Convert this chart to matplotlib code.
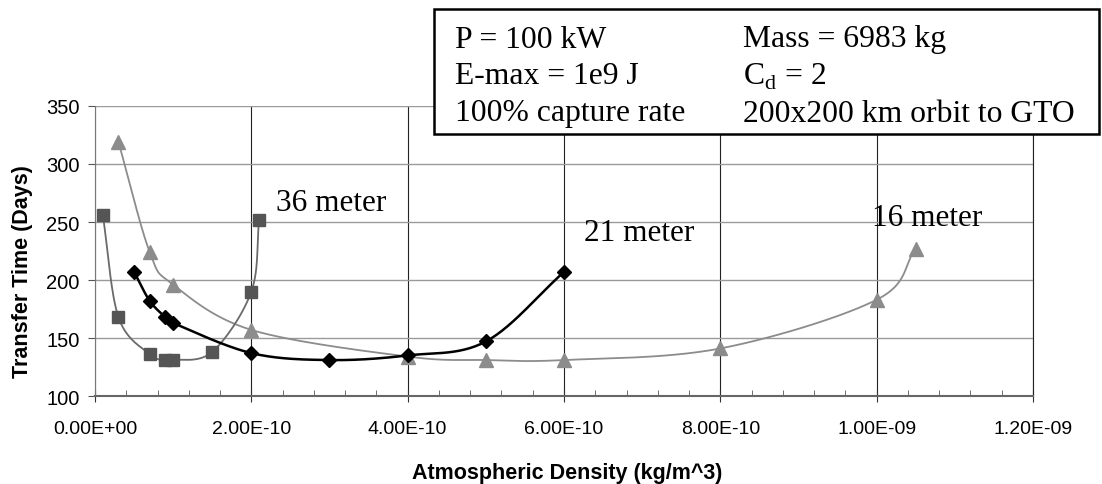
import matplotlib.pyplot as plt
import matplotlib.patches as mpatches
from matplotlib.ticker import FixedLocator, FuncFormatter
import numpy as np

# --- data ---
x_36 = [1e-11, 3e-11, 7e-11, 9e-11, 1e-10, 1.5e-10, 2e-10, 2.1e-10]
y_36 = [256, 168, 136, 131, 131, 138, 190, 252]

x_21 = [5e-11, 7e-11, 9e-11, 1e-10, 2e-10, 3e-10, 4e-10, 5e-10, 6e-10]
y_21 = [207, 182, 168, 163, 137, 131, 135, 147, 207]

x_16 = [3e-11, 7e-11, 1e-10, 2e-10, 4e-10, 5e-10, 6e-10, 8e-10, 1e-9, 1.05e-9]
y_16 = [319, 224, 196, 157, 134, 131, 131, 141, 183, 227]

x_ticks = [0, 2e-10, 4e-10, 6e-10, 8e-10, 1e-9, 1.2e-9]
y_ticks = [100, 150, 200, 250, 300, 350]

box_left = ["P = 100 kW", "E-max = 1e9 J", "100% capture rate"]
box_right = ["Mass = 6983 kg", "C$_\\mathregular{d}$ = 2", "200x200 km orbit to GTO"]


def smooth(xs, ys, n=30):
    # Catmull-Rom style smoothing, like Excel's "smoothed line"
    xs = np.asarray(xs, float)
    ys = np.asarray(ys, float)
    px = np.concatenate([[2 * xs[0] - xs[1]], xs, [2 * xs[-1] - xs[-2]]])
    py = np.concatenate([[2 * ys[0] - ys[1]], ys, [2 * ys[-1] - ys[-2]]])
    ox, oy = [], []
    t = np.linspace(0, 1, n)
    for i in range(1, len(px) - 2):
        for p, out in ((px, ox), (py, oy)):
            p0, p1, p2, p3 = p[i - 1], p[i], p[i + 1], p[i + 2]
            out.extend(0.5 * ((2 * p1) + (-p0 + p2) * t
                              + (2 * p0 - 5 * p1 + 4 * p2 - p3) * t ** 2
                              + (-p0 + 3 * p1 - 3 * p2 + p3) * t ** 3))
    return ox, oy


def sci_label(v, pos):
    if abs(v) < 1e-15:
        return "0.00E+00"
    e = int(np.floor(np.log10(abs(v)) + 1e-9))
    return "{:.2f}E-{:02d}".format(v / 10 ** e, -e)


plt.rcParams['font.family'] = ['Liberation Sans', 'DejaVu Sans']

fig = plt.figure(figsize=(11.02, 4.85), dpi=100)
ax = fig.add_axes([0.0862, 0.1814, 0.8512, 0.598])

series = [
    (x_16, y_16, '^', '#8c8c8c', '#8c8c8c', 1.3, 10),
    (x_36, y_36, 's', '#6a6a6a', '#555555', 1.3, 9),
    (x_21, y_21, 'D', '#000000', '#000000', 1.8, 7.5),
]
for xs, ys, m, lc, mc, lw, ms in series:
    sx, sy = smooth(xs, ys)
    ax.plot(sx, sy, color=lc, lw=lw, zorder=3)
    ax.plot(xs, ys, linestyle='none', marker=m, color=mc, markersize=ms, zorder=4)

ax.set_xlim(0, 1.2e-9)
ax.set_ylim(100, 350)
ax.xaxis.set_major_locator(FixedLocator(x_ticks))
ax.xaxis.set_minor_locator(FixedLocator(np.arange(0, 1.2e-9, 4e-11)))
ax.yaxis.set_major_locator(FixedLocator(y_ticks))
ax.xaxis.set_major_formatter(FuncFormatter(sci_label))

ax.grid(True, axis='x', color='#222222', lw=0.8, zorder=1)
ax.grid(True, axis='y', color='#9a9a9a', lw=1.0, zorder=1)
ax.spines['top'].set_visible(False)
ax.spines['right'].set_color('#222222')
ax.spines['right'].set_linewidth(0.8)
ax.spines['left'].set_color('#777777')
ax.spines['bottom'].set_color('#666666')
ax.spines['bottom'].set_linewidth(1.5)
ax.tick_params(axis='x', which='major', direction='inout', length=8, color='#333333',
               labelsize=14, pad=13)
ax.tick_params(axis='x', which='minor', direction='in', length=4, color='#555555')
ax.tick_params(axis='y', which='major', direction='out', length=5, color='#555555',
               labelsize=14.5, pad=6)

ax.set_ylabel('Transfer Time (Days)', fontsize=15.5, fontweight='bold')
ax.yaxis.set_label_coords(-0.066, 0.431)
ax.set_xlabel('Atmospheric Density (kg/m^3)', fontsize=15.5, fontweight='bold')
ax.xaxis.set_label_coords(0.503, -0.228)

ax.text(2.32e-10, 267, '36 meter', family='Liberation Serif', fontsize=22.5, va='center')
ax.text(6.26e-10, 241, '21 meter', family='Liberation Serif', fontsize=22.5, va='center')
ax.text(9.94e-10, 254, '16 meter', family='Liberation Serif', fontsize=22.5, va='center')

# parameter box
fig.patches.append(mpatches.Rectangle((434 / 1102, 1 - 135 / 485), 665 / 1102, 125 / 485,
                                      transform=fig.transFigure, facecolor='white',
                                      edgecolor='black', lw=1.8, zorder=5))
for i, (a, b) in enumerate(zip(box_left, box_right)):
    yy = 1 - (40 + i * 37) / 485
    fig.text(455 / 1102, yy, a, family='Liberation Serif', fontsize=22.8, va='center', zorder=6)
    fig.text(743 / 1102, yy, b, family='Liberation Serif', fontsize=22.8, va='center', zorder=6)

fig.savefig('out.png', dpi=100)
